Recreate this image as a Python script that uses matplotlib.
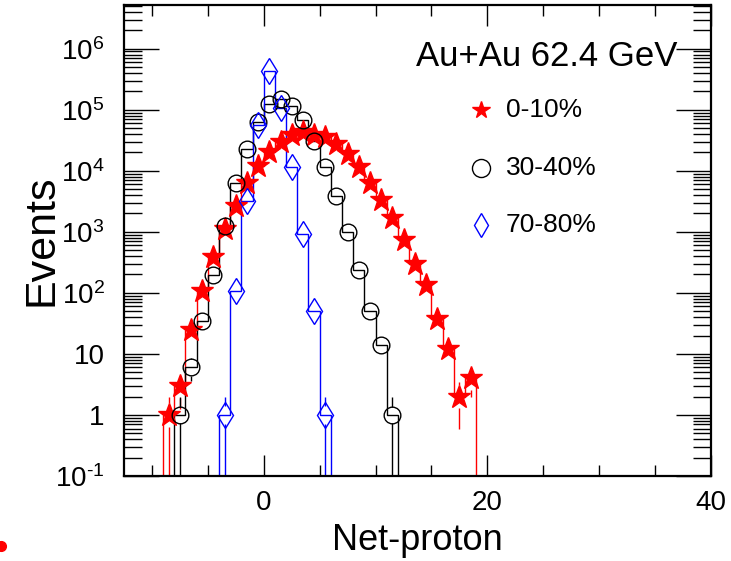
import numpy as np
import matplotlib
matplotlib.use('Agg')
import matplotlib.pyplot as plt
from matplotlib.ticker import FixedLocator, FixedFormatter, LogLocator, MultipleLocator, NullFormatter
from matplotlib.lines import Line2D

plt.rcParams['font.family'] = ['Liberation Sans', 'DejaVu Sans']
plt.rcParams['mathtext.fontset'] = 'custom'
plt.rcParams['mathtext.rm'] = 'Liberation Sans'
plt.rcParams['mathtext.it'] = 'Liberation Sans:italic'
plt.rcParams['axes.unicode_minus'] = False

# ---------------- data ----------------
bin_low = -13
bin_high = 40

red_label = "0-10%"
red_bins = list(range(-9, 19))
red_counts = [1, 3, 25, 107, 380, 1100, 2700, 6300, 12000, 20000,
              29500, 38000, 42500, 38000, 35500, 27500, 19000, 11400, 6300, 3340,
              1700, 740, 300, 137, 38, 12, 2, 4]

black_label = "30-40%"
black_bins = list(range(-8, 12))
black_counts = [1, 6, 35, 195, 1230, 6200, 22500, 64000, 124000, 149000,
                115000, 68000, 31000, 11700, 3850, 1000, 240, 50, 14, 1]

blue_label = "70-80%"
blue_bins = list(range(-4, 6))
blue_counts = [1, 107, 3250, 57000, 425000, 105000, 11500, 930, 50, 1]

title_text = "Au+Au 62.4 GeV"
x_title = "Net-proton"
y_title = "Events"
x_ticks = [0, 20, 40]
x_ticklabels = ["0", "20", "40"]
y_ticks = [1e-1, 1, 10, 1e2, 1e3, 1e4, 1e5, 1e6]
y_ticklabels = [r"$\mathregular{10^{\text{-}1}}$", "1", "10", r"$\mathregular{10^{2}}$",
                r"$\mathregular{10^{3}}$", r"$\mathregular{10^{4}}$",
                r"$\mathregular{10^{5}}$", r"$\mathregular{10^{6}}$"]

ymin, ymax = 0.1, 5.2e6
xmin, xmax = -12.5, 40

# ---------------- figure ----------------
DPI = 100
fig = plt.figure(figsize=(7.31, 5.61), dpi=DPI)
ax = fig.add_axes([124/731, 85/561, 587/731, 471/561])
ax.set_yscale('log')
ax.set_xlim(xmin, xmax)
ax.set_ylim(ymin, ymax)

edges = np.arange(bin_low, bin_high + 1)


def draw(bins, counts, color, marker, ms, filled, mew=1.0):
    full = np.zeros(len(edges) - 1)
    full[np.array(bins) - bin_low] = counts
    ax.stairs(np.where(full > 0, full, ymin), edges, baseline=None,
              color=color, lw=1.0, zorder=2)
    centers = np.array(bins) + 0.5
    c = np.array(counts, dtype=float)
    err = np.sqrt(c)
    # error bars drawn outside the marker only (ROOT style)
    r_px = ms / 2 * DPI / 72.0
    trans = ax.transData
    inv = trans.inverted()
    for xc, yc, e in zip(centers, c, err):
        xd, yd = trans.transform((xc, yc))
        y_top_marker = inv.transform((xd, yd + r_px))[1]
        y_bot_marker = inv.transform((xd, yd - r_px))[1]
        hi = yc + e
        lo = max(yc - e, ymin)
        if hi > y_top_marker:
            ax.vlines(xc, y_top_marker, hi, color=color, lw=1.0, zorder=2)
        if lo < y_bot_marker:
            ax.vlines(xc, lo, y_bot_marker, color=color, lw=1.0, zorder=2)
    ax.plot(centers, c, ls='none', marker=marker, ms=ms,
            mfc=color if filled else 'none', mec=color, mew=mew, zorder=3)


draw(red_bins, red_counts, 'red', '*', 17, True)
draw(black_bins, black_counts, 'black', 'o', 12, False)
draw(blue_bins, blue_counts, 'blue', 'd', 13, False)

# ticks
ax.xaxis.set_major_locator(FixedLocator(x_ticks))
ax.xaxis.set_major_formatter(FixedFormatter(x_ticklabels))
ax.xaxis.set_minor_locator(MultipleLocator(5))
ax.yaxis.set_major_locator(FixedLocator(y_ticks))
ax.yaxis.set_major_formatter(FixedFormatter(y_ticklabels))
ax.yaxis.set_minor_locator(LogLocator(base=10, subs=np.arange(2, 10), numticks=30))
ax.yaxis.set_minor_formatter(NullFormatter())

ax.tick_params(which='both', direction='in', top=True, right=True, width=1.0)
ax.tick_params(axis='x', which='major', length=15, labelsize=20, pad=10)
ax.tick_params(axis='x', which='minor', length=8)
ax.tick_params(axis='y', which='major', length=25, labelsize=20, pad=14)
ax.tick_params(axis='y', which='minor', length=13)
for s in ax.spines.values():
    s.set_linewidth(1.6)

ax.set_xlabel(x_title, fontsize=26, va='center')
ax.xaxis.set_label_coords(0.5, (476 - 540) / 471)
ax.set_ylabel(y_title, fontsize=31, va='center')
ax.yaxis.set_label_coords((42 - 124) / 587, 0.5)

# legend (manual)
ax.text((677 - 124) / 587, (476 - 57) / 471, title_text, transform=ax.transAxes,
        ha='right', va='center', fontsize=25)
leg_entries = [(red_label, 'red', '*', 13, True, 110),
               (black_label, 'black', 'o', 13, False, 168),
               (blue_label, 'blue', 'd', 12, False, 225)]
for lab, col, mk, ms, filled, py in leg_entries:
    yf = (476 - py) / 471
    ax.plot([(481 - 124) / 587], [yf], transform=ax.transAxes, ls='none', marker=mk,
            ms=ms, mfc=col if filled else 'none', mec=col, mew=1.0, clip_on=False)
    ax.text((506 - 124) / 587, yf, lab, transform=ax.transAxes, ha='left', va='center',
            fontsize=19)

# small red mark at lower left edge
fig.add_artist(Line2D([0.001], [1 - 546 / 561], transform=fig.transFigure, ls='none',
                      marker='o', ms=7, color='red'))

fig.savefig('out.png', dpi=DPI)
